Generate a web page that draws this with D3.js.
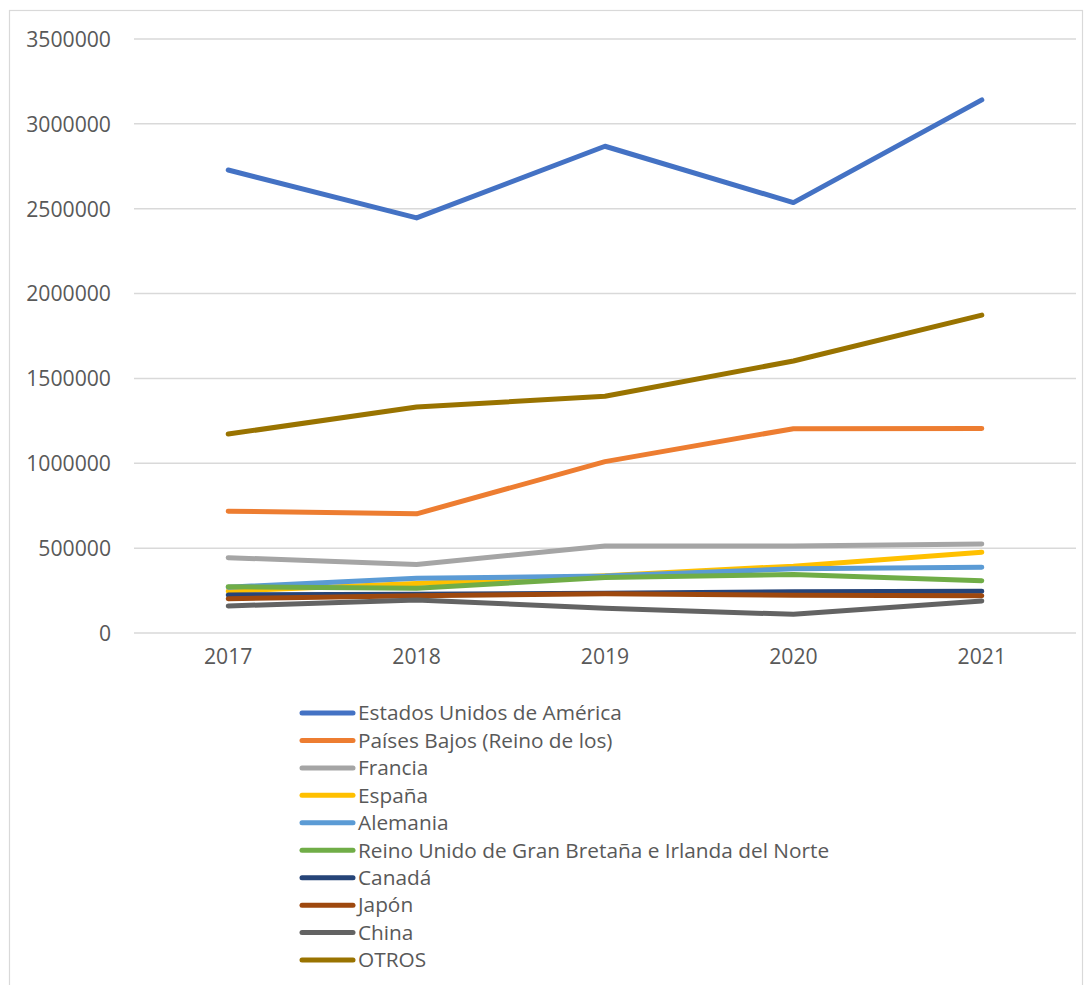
<!DOCTYPE html>
<html>
<head>
<meta charset="utf-8">
<script src="https://cdn.jsdelivr.net/npm/d3@7"></script>
<style>
  html, body { margin: 0; padding: 0; background: #fff; }
  svg { display: block; }
</style>
</head>
<body>
<svg id="chart" width="1091" height="985"></svg>
<script>
const years = ["2017", "2018", "2019", "2020", "2021"];
const yTicks = [0, 500000, 1000000, 1500000, 2000000, 2500000, 3000000, 3500000];

const seriesNames = [
  "Estados Unidos de América",
  "Países Bajos (Reino de los)",
  "Francia",
  "España",
  "Alemania",
  "Reino Unido de Gran Bretaña e Irlanda del Norte",
  "Canadá",
  "Japón",
  "China",
  "OTROS"
];
const seriesColors = ["#4472C4", "#ED7D31", "#A5A5A5", "#FFC000", "#5B9BD5", "#70AD47", "#264478", "#9E480E", "#636363", "#997300"];

const usa      = [2728000, 2446000, 2868000, 2536000, 3141000];
const paisesBajos = [718000, 702000, 1010000, 1204000, 1205000];
const francia  = [444000, 404000, 512000, 513000, 524000];
const espana   = [247000, 292000, 338000, 394000, 476000];
const alemania = [270000, 322000, 336000, 378000, 387000];
const reinoUnido = [273000, 264000, 327000, 345000, 308000];
const canada   = [224000, 229000, 234000, 243000, 246000];
const japon    = [202000, 219000, 232000, 222000, 220000];
const china    = [159000, 195000, 146000, 110000, 189000];
const otros    = [1172000, 1332000, 1395000, 1603000, 1873000];

const seriesValues = [usa, paisesBajos, francia, espana, alemania, reinoUnido, canada, japon, china, otros];

const svg = d3.select("#chart");
const font = "'Open Sans', 'Noto Sans', sans-serif";
const textColor = "#595959";

// outer frame
svg.append("rect")
  .attr("x", 9.5).attr("y", 10.5)
  .attr("width", 1073).attr("height", 1000)
  .attr("fill", "none").attr("stroke", "#d9d9d9").attr("stroke-width", 1.2);

const plot = { left: 134, right: 1076, top: 39, bottom: 633 };

const x = d3.scaleBand().domain(years).range([plot.left, plot.right]);
const y = d3.scaleLinear().domain([0, 3500000]).range([plot.bottom, plot.top]);

// gridlines
svg.append("g")
  .selectAll("line")
  .data(yTicks)
  .join("line")
  .attr("x1", plot.left).attr("x2", plot.right)
  .attr("y1", d => y(d)).attr("y2", d => y(d))
  .attr("stroke", "#d9d9d9").attr("stroke-width", 1.5);

// y axis labels
const yAxis = d3.axisLeft(y).tickValues(yTicks).tickSize(0).tickPadding(0).tickFormat(d => String(d));
const gy = svg.append("g").attr("transform", `translate(111,0)`).call(yAxis);
gy.select(".domain").remove();
gy.selectAll("text")
  .attr("font-family", font).attr("font-size", 21.2).attr("fill", textColor)
  .attr("dy", "0.35em");

// x axis labels
const xAxis = d3.axisBottom(x).tickSize(0).tickPadding(0);
const gx = svg.append("g").attr("transform", `translate(0,${plot.bottom})`).call(xAxis);
gx.select(".domain").remove();
gx.selectAll("text")
  .attr("font-family", font).attr("font-size", 21.2).attr("fill", textColor)
  .attr("y", 0).attr("dy", "1.45em");

// lines
const line = d3.line()
  .x((d, i) => x(years[i]) + x.bandwidth() / 2)
  .y(d => y(d));

svg.append("g")
  .selectAll("path")
  .data(seriesValues)
  .join("path")
  .attr("d", d => line(d))
  .attr("fill", "none")
  .attr("stroke", (d, i) => seriesColors[i])
  .attr("stroke-width", 5)
  .attr("stroke-linecap", "round")
  .attr("stroke-linejoin", "round");

// legend
const legend = svg.append("g");
const legendRows = legend.selectAll("g")
  .data(seriesNames)
  .join("g")
  .attr("transform", (d, i) => `translate(0,${713 + i * 27.45})`);
legendRows.append("line")
  .attr("x1", 302).attr("x2", 353)
  .attr("y1", 0).attr("y2", 0)
  .attr("stroke", (d, i) => seriesColors[i])
  .attr("stroke-width", 5)
  .attr("stroke-linecap", "round");
legendRows.append("text")
  .attr("x", 358).attr("y", 0).attr("dy", "0.35em")
  .attr("font-family", font).attr("font-size", 20.8).attr("fill", textColor)
  .text(d => d);
</script>
</body>
</html>
